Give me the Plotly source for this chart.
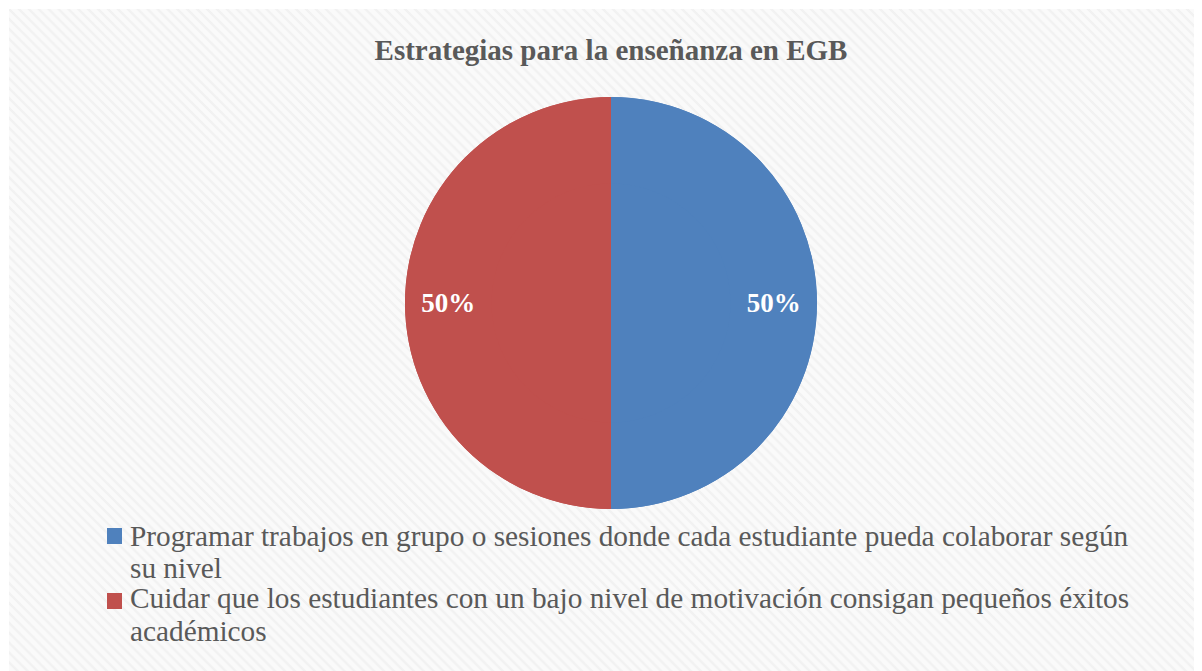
import plotly.graph_objects as go

title = "Estrategias para la enseñanza en EGB"
labels = [
    "Programar trabajos en grupo o sesiones donde cada estudiante pueda colaborar según su nivel",
    "Cuidar que los estudiantes con un bajo nivel de motivación consigan pequeños éxitos académicos",
]
# legend text wraps like in the original
label_lines = [
    ["Programar trabajos en grupo o sesiones donde cada estudiante pueda colaborar según", "su nivel"],
    ["Cuidar que los estudiantes con un bajo nivel de motivación consigan pequeños éxitos", "académicos"],
]
values = [50, 50]
colors = ["#4F81BD", "#C0504D"]

W, H = 1202, 671
FONT = "Liberation Serif"
GREY = "#595959"
# pie placement in pixels (page has an 8px body margin)
cx, cy, r = 603, 295, 206


def px(x):
    return x / W


def py(y):
    return 1 - y / H


domain = dict(x=[px(cx - r), px(cx + r)], y=[py(cy + r), py(cy - r)])

fig = go.Figure()

# hatched chart-area background
fig.add_trace(
    go.Scatter(
        x=[0, 1, 1, 0, 0],
        y=[0, 0, 1, 1, 0],
        mode="none",
        fill="toself",
        fillcolor="#f9f9f9",
        fillpattern=dict(shape="\\", bgcolor="#fafafa", fgcolor="#e9e9e9", size=7, solidity=0.35),
        hoverinfo="skip",
        showlegend=False,
    )
)

# full pie
fig.add_trace(
    go.Pie(
        labels=labels,
        values=values,
        sort=False,
        direction="clockwise",
        rotation=0,
        marker=dict(colors=colors),
        textinfo="none",
        domain=domain,
        showlegend=False,
        hoverinfo="label+percent",
    )
)
# same pie as a ring on top, only to carry the percent labels near the rim
fig.add_trace(
    go.Pie(
        labels=labels,
        values=values,
        sort=False,
        direction="clockwise",
        rotation=0,
        hole=0.58,
        marker=dict(colors=colors),
        textinfo="percent",
        textposition="inside",
        insidetextorientation="horizontal",
        textfont=dict(family=FONT, size=27, color="white", weight="bold"),
        domain=domain,
        showlegend=False,
        hoverinfo="label+percent",
    )
)

shapes = []
# soft shadow around the pie
for k, op in [(18, 0.035), (14, 0.045), (10, 0.055), (6, 0.065), (3, 0.08)]:
    rr = r + k
    shapes.append(
        dict(
            type="circle", xref="paper", yref="paper",
            x0=px(cx - rr), x1=px(cx + rr), y0=py(cy + rr), y1=py(cy - rr),
            fillcolor=f"rgba(90,90,90,{op})", line=dict(width=0), layer="below",
        )
    )
# legend box
shapes.append(
    dict(
        type="rect", xref="paper", yref="paper",
        x0=px(70), x1=px(1140), y0=py(637), y1=py(512),
        fillcolor="rgba(255,255,255,0.75)", line=dict(width=0), layer="below",
    )
)

annotations = []
line_y = [[528, 560], [590, 623]]
square_y = [520, 585]
for i, lines in enumerate(label_lines):
    shapes.append(
        dict(
            type="rect", xref="paper", yref="paper",
            x0=px(99), x1=px(114), y0=py(square_y[i] + 16), y1=py(square_y[i]),
            fillcolor=colors[i], line=dict(width=0),
        )
    )
    for j, txt in enumerate(lines):
        annotations.append(
            dict(
                text=txt, xref="paper", yref="paper",
                x=px(120), y=py(line_y[i][j]), xanchor="left", yanchor="middle",
                showarrow=False, font=dict(family=FONT, size=29.3, color=GREY),
            )
        )

fig.update_layout(
    width=W,
    height=H,
    margin=dict(l=0, r=0, t=0, b=0),
    paper_bgcolor="white",
    plot_bgcolor="rgba(0,0,0,0)",
    xaxis=dict(domain=[1 / W, 1], range=[0, 1], visible=False, fixedrange=True),
    yaxis=dict(domain=[0, 1 - 1 / H], range=[0, 1], visible=False, fixedrange=True),
    title=dict(
        text="<b>" + title + "</b>",
        x=px(603), xanchor="center",
        y=py(42), yanchor="middle",
        font=dict(family=FONT, size=29, color=GREY),
    ),
    shapes=shapes,
    annotations=annotations,
    showlegend=False,
)

fig.write_html("out.html")
